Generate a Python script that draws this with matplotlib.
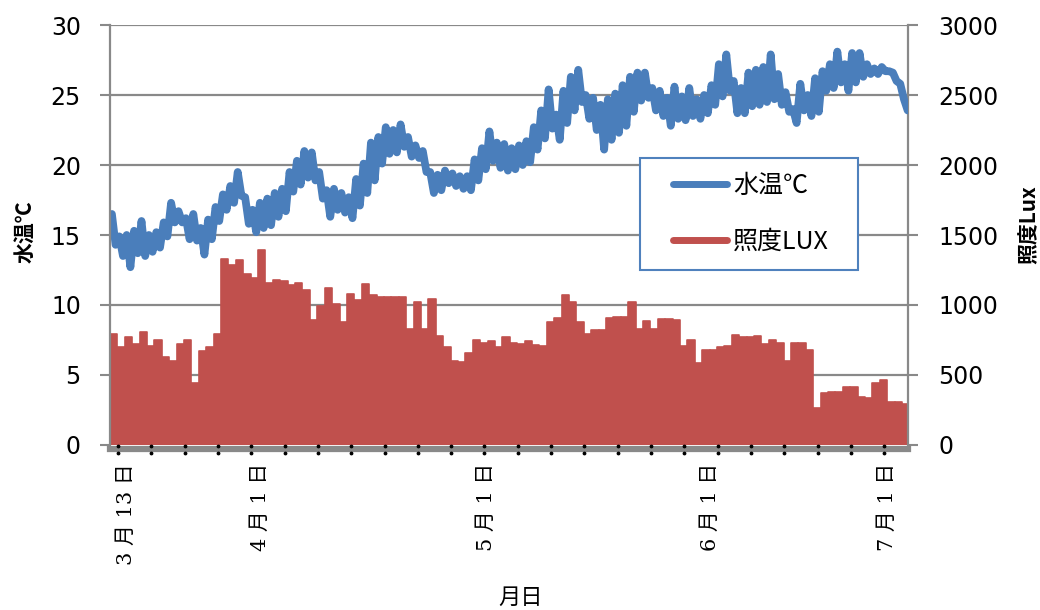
import numpy as np
import matplotlib.pyplot as plt
from matplotlib.lines import Line2D
from matplotlib.legend_handler import HandlerLine2D

plt.rcParams['font.family'] = ['DejaVu Sans', 'Noto Sans CJK JP']

# 日ごとの水温（上・下）と照度の最大値
temp_hi = [16.5, 14.9, 15.0, 15.3, 16.0, 15.0, 15.2, 15.9, 17.3, 16.7,
           16.2, 16.5, 15.5, 16.1, 17.0, 17.9, 18.5, 19.5, 17.7, 16.8,
           17.3, 17.6, 18.0, 18.3, 19.5, 20.3, 21.0, 20.9, 19.5, 18.2,
           18.3, 18.0, 17.7, 19.0, 20.1, 21.6, 22.0, 22.7, 22.5, 22.9,
           22.0, 21.4, 21.0, 19.5, 19.3, 19.6, 19.4, 19.2, 19.2, 20.4,
           21.2, 22.4, 21.6, 21.5, 21.2, 21.4, 21.7, 22.7, 23.9, 25.4,
           23.6, 25.3, 26.3, 26.8, 25.0, 24.8, 24.3, 24.7, 25.1, 25.7,
           26.3, 26.6, 26.6, 25.5, 25.3, 24.8, 25.6, 24.9, 25.5, 24.7,
           25.0, 25.7, 27.2, 27.9, 26.0, 25.5, 26.6, 26.8, 27.0, 27.9,
           26.5, 25.2, 24.0, 25.8, 25.0, 26.2, 26.7, 27.2, 28.1, 27.2,
           28.0, 28.0, 27.2, 26.9, 27.0, 26.7, 26.0, 24.7]
temp_lo = [14.3, 13.5, 12.7, 13.7, 13.5, 13.8, 14.1, 14.9, 15.9, 15.9,
           14.7, 14.6, 13.6, 14.7, 16.0, 16.8, 17.3, 17.8, 15.8, 15.2,
           15.5, 15.7, 16.3, 16.7, 18.1, 18.6, 19.1, 18.9, 17.6, 16.3,
           16.8, 16.6, 16.2, 17.1, 18.0, 18.9, 20.1, 20.8, 20.9, 21.3,
           20.6, 20.5, 19.5, 18.0, 18.2, 18.7, 18.5, 18.3, 18.2, 18.9,
           19.7, 20.3, 19.8, 19.6, 19.7, 20.0, 20.2, 21.1, 21.9, 22.6,
           21.8, 23.0, 23.9, 24.5, 23.3, 22.5, 21.1, 21.8, 22.3, 22.8,
           23.8, 24.6, 24.8, 23.9, 23.5, 22.8, 23.3, 23.2, 23.5, 23.3,
           23.7, 24.3, 24.9, 25.3, 23.7, 23.7, 24.2, 24.3, 24.5, 24.7,
           24.3, 23.8, 23.0, 23.9, 23.5, 23.8, 25.3, 25.5, 25.9, 25.3,
           25.9, 26.3, 26.5, 26.5, 26.7, 26.6, 25.8, 23.9]
lux_max = [790, 700, 770, 720, 810, 710, 750, 630, 600, 720,
           750, 440, 670, 700, 790, 1330, 1285, 1320, 1225, 1190,
           1390, 1155, 1180, 1175, 1140, 1160, 1105, 890, 990, 1120,
           1010, 880, 1080, 1035, 1150, 1070, 1060, 1060, 1055, 1055,
           830, 1020, 830, 1045, 775, 700, 600, 590, 660, 750,
           730, 740, 700, 770, 730, 720, 740, 715, 710, 880,
           905, 1070, 1020, 880, 790, 820, 820, 910, 915, 915,
           1020, 830, 885, 830, 900, 900, 890, 710, 750, 585,
           680, 680, 700, 710, 785, 770, 770, 775, 720, 750,
           730, 600, 725, 725, 680, 265, 370, 380, 380, 415,
           415, 345, 335, 440, 465, 310, 310, 290]

date_labels = ['3 月 13 日', '4 月 1 日', '5 月 1 日', '6 月 1 日', '7 月 1 日']
date_pos = [2.2, 20.3, 50.9, 81.1, 105.0]

blue = '#4A7EBB'
red = '#C0504D'
grey = '#898989'

days = np.arange(len(lux_max))
t_x = np.column_stack([days + 0.25, days + 0.75]).ravel()
t_y = np.column_stack([temp_hi, temp_lo]).ravel()

fig = plt.figure(figsize=(10.4, 6.1), dpi=100)
ax = fig.add_axes([0.1058, 0.2705, 0.7673, 0.6885])
ax2 = ax.twinx()
ax.set_zorder(2)
ax2.set_zorder(1)
ax.patch.set_visible(False)

# 照度（右軸）
ax2.bar(days, lux_max, width=1.0, align='edge', color=red, edgecolor=red,
        linewidth=1.2, joinstyle='round', zorder=2)
ax2.set_ylim(0, 3000)
ax2.set_yticks(np.arange(0, 3001, 500))
ax2.set_axisbelow(True)
ax2.grid(axis='y', color=grey, linewidth=1.6)

# 水温（左軸）
ax.plot(t_x, t_y, color=blue, linewidth=5.6, solid_joinstyle='round',
        solid_capstyle='round')
ax.set_ylim(0, 30)
ax.set_yticks(np.arange(0, 31, 5))
ax.set_xlim(0, 107.8)

for a in (ax, ax2):
    a.spines['top'].set_visible(False)
    a.spines['bottom'].set_visible(False)
    a.spines['left'].set_color(grey)
    a.spines['right'].set_color(grey)
    a.spines['left'].set_linewidth(1.6)
    a.spines['right'].set_linewidth(1.6)
ax.spines['right'].set_visible(False)
ax2.spines['left'].set_visible(False)

ax.spines['bottom'].set_visible(True)
ax.spines['bottom'].set_color(grey)
ax.spines['bottom'].set_linewidth(4.5)
ax.spines['bottom'].set_position(('outward', 3))

ax.tick_params(axis='y', direction='out', length=7, width=1.5, color=grey,
               pad=14, labelsize=17)
ax2.tick_params(axis='y', direction='out', length=7, width=1.5, color=grey,
                pad=15, labelsize=17)

ax.set_xticks(date_pos)
ax.set_xticklabels(date_labels, rotation=90, va='top', fontsize=15,
                   family=['DejaVu Serif', 'Noto Sans CJK JP'])
ax.tick_params(axis='x', length=0, pad=10)

# 目盛りの点
dot_x = np.arange(1.08, 107.8, 4.5)
for yy in (-0.002, -0.018):
    ax.plot(dot_x, np.full(len(dot_x), yy), 'k.', ms=3.5, clip_on=False,
            transform=ax.get_xaxis_transform(), zorder=5)

ax.set_ylabel('水温℃', fontsize=15, fontweight='bold',
              family=['Noto Sans CJK JP'])
ax.yaxis.set_label_coords(-0.094, 0.507)
ax2.set_ylabel('照度Lux', fontsize=15, fontweight='bold',
               family=['Noto Sans CJK JP'])
ax2.yaxis.set_label_coords(1.138, 0.524)
ax.set_xlabel('月日', fontsize=16, family=['Noto Sans CJK JP'])
ax.xaxis.set_label_coords(0.514, -0.335)

handles = [Line2D([], [], color=blue, lw=5, solid_capstyle='round'),
           Line2D([], [], color=red, lw=5, solid_capstyle='round')]
leg = ax.legend(handles, ['水温℃', '照度LUX'], loc='upper left',
                bbox_to_anchor=(640 / 1040, 1 - 277 / 610, 218 / 1040, 119 / 610),
                bbox_transform=fig.transFigure, mode='expand',
                handler_map={Line2D: HandlerLine2D(xpad=0.72)},
                handlelength=2.88, handletextpad=0.24,
                labelspacing=1.2, borderpad=0.6, borderaxespad=0,
                fancybox=False, framealpha=1,
                prop={'family': ['Noto Sans CJK JP'], 'size': 18})
leg.get_frame().set_edgecolor('#4F81BD')
leg.get_frame().set_linewidth(1.5)

fig.savefig('out.png', dpi=100)
